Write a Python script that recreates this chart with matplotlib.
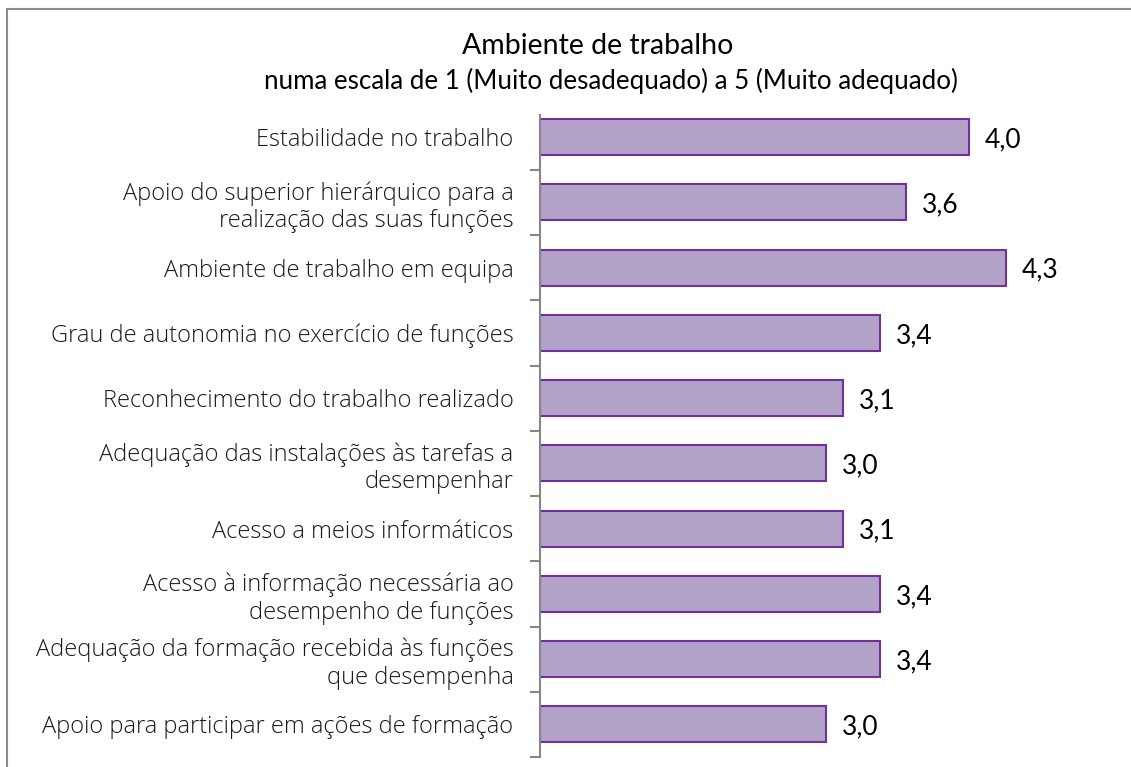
import matplotlib.pyplot as plt
from matplotlib.lines import Line2D
from matplotlib.ticker import FixedLocator

categories = [
    "Estabilidade no trabalho",
    "Apoio do superior hierárquico para a\nrealização das suas funções",
    "Ambiente de trabalho em equipa",
    "Grau de autonomia no exercício de funções",
    "Reconhecimento do trabalho realizado",
    "Adequação das instalações às tarefas a\ndesempenhar",
    "Acesso a meios informáticos",
    "Acesso à informação necessária ao\ndesempenho de funções",
    "Adequação da formação recebida às funções\nque desempenha",
    "Apoio para participar em ações de formação",
]
values = [4.0, 3.56, 4.26, 3.38, 3.12, 3.0, 3.12, 3.38, 3.38, 3.0]

W, H = 1131, 767
fig = plt.figure(figsize=(W / 100, H / 100), dpi=100)
plt.rcParams["font.family"] = ["Open Sans", "DejaVu Sans"]

# axes: x from 1 (px 540) to 5 (px 1112), categories from y=104.5 to 757
ax = fig.add_axes([540 / W, (H - 757) / H, 572 / W, (757 - 104.5) / H])
pos = list(range(len(categories)))
ax.barh(pos, [v - 1 for v in values], left=1, height=0.55,
        color="#B3A2C7", edgecolor="#7030A0", linewidth=1.5)
ax.set_xlim(1, 5)
ax.set_ylim(len(categories) - 0.5, -0.5)

for p, v in zip(pos, values):
    ax.text(v + 0.11, p + 0.04, f"{v:.1f}".replace(".", ","), va="center", ha="left",
            fontsize=19, color="black", family=["Lato", "DejaVu Sans"])

for s in ["top", "right", "bottom"]:
    ax.spines[s].set_visible(False)
ax.spines["left"].set_color("#868686")
ax.spines["left"].set_linewidth(1.5)
ax.spines["left"].set_bounds(len(categories) - 0.5, -0.34)
ax.set_xticks([])
ax.set_yticks(pos)
ax.set_yticklabels(categories, fontsize=17, fontweight="light", linespacing=1.2)
ax.tick_params(axis="y", which="major", length=0, pad=19, colors="#1a1a1a")
ax.yaxis.set_minor_locator(FixedLocator([p + 0.5 for p in pos]))
ax.tick_params(axis="y", which="minor", length=7, width=1.5, color="#868686")
for lbl in ax.get_yticklabels():
    lbl.set_horizontalalignment("right")

fig.text(598 / W, 1 - 46 / H, "Ambiente de trabalho", ha="center", va="center",
         fontsize=20.5, family=["Lato", "DejaVu Sans"])
fig.text(611 / W, 1 - 81 / H, "numa escala de 1 (Muito desadequado) a 5 (Muito adequado)",
         ha="center", va="center", fontsize=18.6, family=["Lato", "DejaVu Sans"])

# chart frame (top and left edges visible)
fig.add_artist(Line2D([7 / W, 1], [1 - 9 / H, 1 - 9 / H], color="#8c8c8c", lw=1.5,
                      transform=fig.transFigure))
fig.add_artist(Line2D([7 / W, 7 / W], [0, 1 - 9 / H], color="#8c8c8c", lw=1.5,
                      transform=fig.transFigure))

fig.savefig("out.png", dpi=100)
